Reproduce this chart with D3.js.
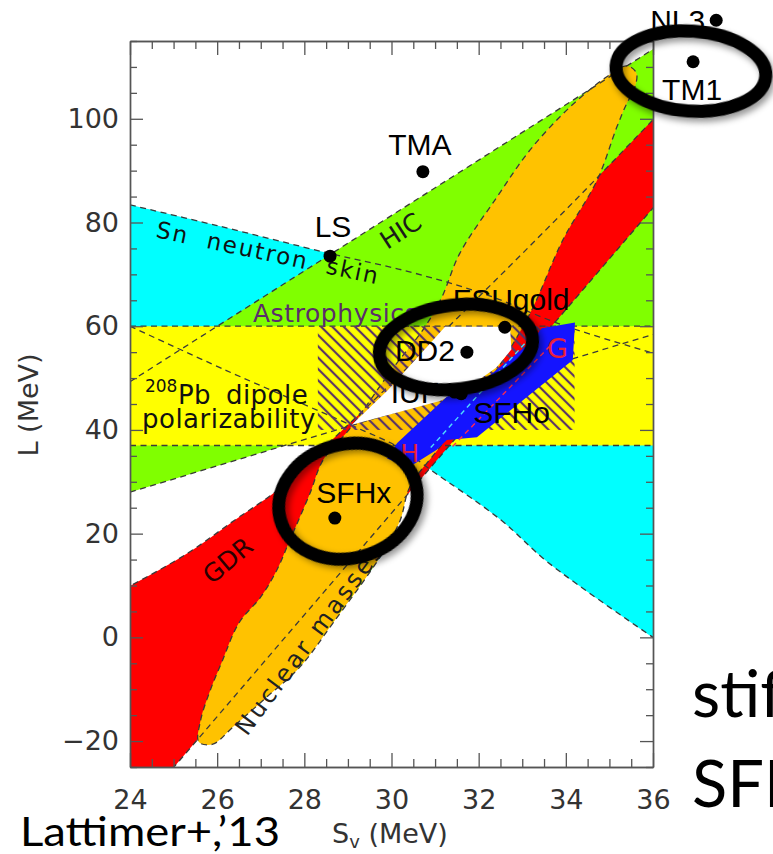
<!DOCTYPE html>
<html>
<head>
<meta charset="utf-8">
<script src="https://cdn.jsdelivr.net/npm/d3@7"></script>
<style>
  html, body { margin: 0; padding: 0; background: #fff; overflow: hidden; }
  svg { display: block; }
</style>
</head>
<body>
<svg id="chart" width="773" height="854"></svg>
<script>
// ---------- data: symmetry energy S_v and slope L, both in MeV ----------
const xTicks = [24, 26, 28, 30, 32, 34, 36];
const yTicks = [-20, 0, 20, 40, 60, 80, 100];
const xMinor = d3.range(24, 36.001, 0.5).filter(v => v % 2 !== 0);
const yMinor = d3.range(-25, 115.001, 5).filter(v => v % 20 !== 0);

// nuclear models
const models  = ["NL3", "TM1", "TMA", "LS", "FSUgold", "DD2", "IUF", "SFHo", "SFHx"];
const modelSv = [37.45, 36.92, 30.72, 28.59, 32.60, 31.73, 31.45, 31.60, 28.70];
const modelL  = [119.0, 111.0, 89.8, 73.5, 59.8, 55.0, 47.3, 47.0, 23.0];

// Sn neutron skin band (upper and lower edges)
const neutronSkinUpper = [[24, 83.4], [26, 79.4], [28.6, 74.0], [30.5, 70.3], [32.2, 66.0], [33.9, 60.3], [36, 54.8]];
const neutronSkinLower = [[24, 60], [26.2, 51.5], [29.05, 41], [30.2, 36.5], [30.9, 32.3], [32.5, 22.7], [33.6, 14.4], [36, 0]];

// heavy-ion collisions wedge
const hicUpper = [[24, 49.3], [36, 113.4]];
const hicLower = [[24, 28.0], [36, 58.4]];

// 208Pb dipole polarizability: L range
const dipoleBand = [37, 60];

// giant dipole resonance band
const gdrLeft  = [[23.0, 5.6], [24, 9.9], [25.3, 16.1], [26.4, 22.6], [27.4, 28.5], [28.5, 37], [30, 49],
                  [31.5, 61.5], [33, 74], [34.6, 87.6], [36, 99.8], [36.6, 105]];
const gdrRight = [[24.5, -30], [36.6, 88.7]];

// nuclear masses contour
const massesOuter = [
  [25.58, -20.2], [25.62, -16], [25.85, -10], [26.1, -4.9], [26.5, 2.8], [27.0, 7.8], [27.37, 13.0],
  [27.67, 18.8], [28.13, 27.8], [28.43, 34.2], [29.05, 40.3], [29.97, 51.2], [30.77, 59.9], [31.15, 65.5],
  [31.57, 74.1], [32.42, 84.9], [33.18, 94.0], [34.10, 102.3], [34.94, 108.1], [35.40, 110.2], [35.62, 108.8],
  [35.56, 105.5], [35.40, 103.0], [35.17, 98.4], [34.72, 88.2], [33.93, 76.6], [33.18, 62.5], [32.26, 49.6],
  [31.11, 36.7], [30.42, 29.0], [30.20, 22.6], [29.80, 16.3], [28.66, 2.8], [27.90, -5.7], [27.14, -11.5],
  [26.36, -17.3], [25.9, -20.6]
];

// astrophysical constraint (hatched box)
const astroSv = [28.31, 34.2];
const astroL  = [40, 60];

// region allowed by all constraints
const consensus = [[29.09, 41.0], [31.11, 45.6], [31.8, 48.4], [32.4, 52.0], [32.75, 55.5], [32.72, 59.9],
                   [31.23, 59.9], [29.92, 47.7]];

// neutron matter calculations (H and G)
const neutronMatter = [[29.9, 34.5], [30.4, 32.8], [31.04, 36.2], [31.27, 38.05], [31.96, 38.6], [34.16, 53.5],
                       [34.21, 60.7], [33.45, 59.6], [33.18, 56.8], [32.49, 52.1], [32.03, 49.1], [31.27, 46.4],
                       [30.13, 37.5]];
const matterEdgeH = [[30.9, 36.6], [33.2, 58.0]];
const matterEdgeG = [[31.4, 36.8], [33.8, 57.6]];

// highlighted models (ring centres)
const ringSv = [36.87, 31.48, 29.0];
const ringL  = [109.2, 56.0, 26.25];

// ---------- drawing ----------
const svg = d3.select("#chart");
const x = d3.scaleLinear().domain([24, 36]).range([130, 653]);
const y = d3.scaleLinear().domain([-25, 115]).range([767, 41]);

const defs = svg.append("defs");
defs.append("clipPath").attr("id", "plotClip").append("rect")
  .attr("x", x(24)).attr("y", y(115))
  .attr("width", x(36) - x(24)).attr("height", y(-25) - y(115));

const hatch = defs.append("pattern").attr("id", "hatch")
  .attr("patternUnits", "userSpaceOnUse").attr("width", 8).attr("height", 8)
  .attr("patternTransform", "rotate(-45)");
hatch.append("line").attr("x1", 4).attr("y1", -1).attr("x2", 4).attr("y2", 9)
  .attr("stroke", "#5b3566").attr("stroke-width", 2.2);

const shadow = defs.append("filter").attr("id", "ringShadow")
  .attr("x", "-30%").attr("y", "-30%").attr("width", "160%").attr("height", "160%");
shadow.append("feDropShadow").attr("dx", 3).attr("dy", 4).attr("stdDeviation", 3)
  .attr("flood-color", "#000").attr("flood-opacity", 0.4);

const smooth = d3.line().x(d => x(d[0])).y(d => y(d[1])).curve(d3.curveCatmullRom.alpha(0.5));
const straight = d3.line().x(d => x(d[0])).y(d => y(d[1]));
const smoothClosed = d3.line().x(d => x(d[0])).y(d => y(d[1])).curve(d3.curveCatmullRomClosed.alpha(0.5));

function band(a, b, gen) {
  return gen(a) + "L" + gen(b.slice().reverse()).slice(1) + "Z";
}

svg.append("rect").attr("width", 773).attr("height", 854).attr("fill", "#fff");

const plot = svg.append("g").attr("clip-path", "url(#plotClip)");

// filled constraint regions
plot.append("path").attr("d", band(neutronSkinUpper, neutronSkinLower, smooth)).attr("fill", "#00ffff");
plot.append("path").attr("d", band(hicUpper, hicLower, straight)).attr("fill", "#80ff00");
plot.append("rect")
  .attr("x", x(24)).attr("width", x(36) - x(24))
  .attr("y", y(dipoleBand[1])).attr("height", y(dipoleBand[0]) - y(dipoleBand[1]))
  .attr("fill", "#ffff00");
plot.append("path")
  .attr("d", smooth(gdrLeft) + "L" + straight(gdrRight.slice().reverse()).slice(1) + "L" + x(22) + "," + y(-30) + "Z")
  .attr("fill", "#ff0000");
plot.append("path").attr("d", smoothClosed(massesOuter)).attr("fill", "#ffc200");

// dashed outlines
const dash = plot.append("g").attr("fill", "none").attr("stroke", "#3a3a3a")
  .attr("stroke-width", 1.3).attr("stroke-dasharray", "6,4.5");
dash.append("path").attr("d", smooth(neutronSkinUpper));
dash.append("path").attr("d", smooth(neutronSkinLower));
dash.append("path").attr("d", straight(hicUpper));
dash.append("path").attr("d", straight(hicLower));
dipoleBand.forEach(v => dash.append("path").attr("d", straight([[24, v], [36, v]])));
dash.append("path").attr("d", smooth(gdrLeft));
dash.append("path").attr("d", straight(gdrRight));
dash.append("path").attr("d", smoothClosed(massesOuter));

// hatched astrophysics box
plot.append("rect")
  .attr("x", x(astroSv[0])).attr("width", x(astroSv[1]) - x(astroSv[0]))
  .attr("y", y(astroL[1])).attr("height", y(astroL[0]) - y(astroL[1]))
  .attr("fill", "url(#hatch)");

// consensus region
plot.append("path").attr("d", straight(consensus) + "Z").attr("fill", "#fff");

// neutron matter band
plot.append("path").attr("d", straight(neutronMatter) + "Z").attr("fill", "#1414ff");
plot.append("path").attr("d", straight(matterEdgeH)).attr("fill", "none")
  .attr("stroke", "#4fdcff").attr("stroke-width", 1.4).attr("stroke-dasharray", "5,4");
plot.append("path").attr("d", straight(matterEdgeG)).attr("fill", "none")
  .attr("stroke", "#ff2a55").attr("stroke-width", 1.4).attr("stroke-dasharray", "5,4");

// region labels
const rl = svg.append("g").attr("font-family", "DejaVu Sans, sans-serif");
function regionLabel(sv, l, angle, str, size, color, opts = {}) {
  const t = rl.append("text")
    .attr("transform", `translate(${x(sv)},${y(l)}) rotate(${angle})`)
    .attr("font-size", size).attr("fill", color).text(str);
  if (opts.ls) t.attr("letter-spacing", opts.ls);
  if (opts.ws) t.attr("word-spacing", opts.ws);
  return t;
}
regionLabel(24.574, 77.2, 12, "Sn neutron skin", 23, "#111", { ls: 2, ws: 9 });
regionLabel(29.90, 74.7, -33, "HIC", 25, "#1a1a1a");
regionLabel(26.82, 60.84, 0, "Astrophysics", 25, "#5b2d6b", { ls: 0.6 });
regionLabel(24.344, 47.3, 0, "208", 17, "#111");
regionLabel(25.10, 45.0, 0, "Pb dipole", 26, "#111", { ls: 0.5, ws: 6 });
regionLabel(24.275, 40.4, 0, "polarizability", 26, "#111", { ls: 0.5 });
regionLabel(25.88, 10.1, -40, "GDR", 25, "#2a0000");
regionLabel(26.685, -19.2, -53.5, "Nuclear masses", 24, "#222", { ls: 3 });
regionLabel(33.57, 53.9, 0, "G", 27, "#e8203a");
regionLabel(30.2, 33.8, 0, "H", 25, "#e8203a");

// axes (ticks on all four sides, pointing inward)
function styleAxis(g) {
  g.selectAll(".domain").attr("stroke", "#555").attr("stroke-width", 1.4);
  g.selectAll(".tick line").attr("stroke", "#555").attr("stroke-width", 1.3);
  g.selectAll(".tick text").attr("font-family", "DejaVu Sans, sans-serif")
    .attr("font-size", 27).attr("fill", "#333");
}
const axes = svg.append("g");
axes.append("g").attr("transform", `translate(${x(24)},0)`)
  .call(d3.axisLeft(y).tickValues(yMinor).tickSize(-7).tickSizeOuter(0).tickFormat("")).call(styleAxis);
axes.append("g").attr("transform", `translate(${x(24)},0)`)
  .call(d3.axisLeft(y).tickValues(yTicks).tickSize(-13).tickSizeOuter(0).tickPadding(11)).call(styleAxis);
axes.append("g").attr("transform", `translate(${x(36)},0)`)
  .call(d3.axisRight(y).tickValues(yMinor).tickSize(-7).tickSizeOuter(0).tickFormat("")).call(styleAxis);
axes.append("g").attr("transform", `translate(${x(36)},0)`)
  .call(d3.axisRight(y).tickValues(yTicks).tickSize(-13).tickSizeOuter(0).tickFormat("")).call(styleAxis);
axes.append("g").attr("transform", `translate(0,${y(-25)})`)
  .call(d3.axisBottom(x).tickValues(xMinor).tickSize(-8).tickSizeOuter(0).tickFormat("")).call(styleAxis);
axes.append("g").attr("transform", `translate(0,${y(-25)})`)
  .call(d3.axisBottom(x).tickValues(xTicks).tickSize(-14).tickSizeOuter(0).tickPadding(23)).call(styleAxis);
axes.append("g").attr("transform", `translate(0,${y(115)})`)
  .call(d3.axisTop(x).tickValues(xMinor).tickSize(-8).tickSizeOuter(0).tickFormat("")).call(styleAxis);
axes.append("g").attr("transform", `translate(0,${y(115)})`)
  .call(d3.axisTop(x).tickValues(xTicks).tickSize(-14).tickSizeOuter(0).tickFormat("")).call(styleAxis);

// axis titles
svg.append("text").attr("transform", "translate(38,405) rotate(-90)")
  .attr("text-anchor", "middle").attr("font-family", "DejaVu Sans, sans-serif")
  .attr("font-size", 27).attr("fill", "#333").text("L (MeV)");
const xt = svg.append("text").attr("x", 332).attr("y", 843)
  .attr("font-family", "DejaVu Sans, sans-serif").attr("font-size", 27).attr("fill", "#333");
xt.append("tspan").text("S");
xt.append("tspan").attr("font-size", 18).attr("dy", 5).text("v");
xt.append("tspan").attr("dy", -5).text(" (MeV)");

// model points and names
const labelPlace = {
  NL3: { a: "end", dx: -11, dy: 11 },
  TM1: { a: "middle", dx: -1, dy: 38 },
  TMA: { a: "middle", dx: -3, dy: -17 },
  LS: { a: "middle", dx: 3, dy: -19 },
  FSUgold: { a: "start", dx: -52, dy: -17 },
  DD2: { a: "end", dx: -12, dy: 9 },
  IUF: { a: "start", dx: -64, dy: 11 },
  SFHo: { a: "start", dx: 12, dy: 29 },
  SFHx: { a: "middle", dx: 19, dy: -15 }
};
const pts = svg.append("g");
models.forEach((m, i) => {
  const px = x(modelSv[i]), py = y(modelL[i]);
  const p = labelPlace[m];
  pts.append("text").attr("x", px + p.dx).attr("y", py + p.dy).attr("text-anchor", p.a)
    .attr("font-family", "Liberation Sans, Arial, sans-serif").attr("font-size", 30)
    .attr("fill", "#000").text(m);
  pts.append("circle").attr("cx", px).attr("cy", py).attr("r", 6.5).attr("fill", "#000");
});

// rings around highlighted models
const ringSize = [[75, 40, 4], [77, 42, -7], [70, 57, -15]];
ringSv.forEach((sv, i) => {
  const [rx, ry, rot] = ringSize[i];
  svg.append("ellipse")
    .attr("transform", `translate(${x(sv)},${y(ringL[i])}) rotate(${rot})`)
    .attr("rx", rx).attr("ry", ry)
    .attr("fill", "none").attr("stroke", "#000").attr("stroke-width", 13)
    .attr("filter", "url(#ringShadow)");
});

// slide annotations
svg.append("text").attr("x", 20).attr("y", 846)
  .attr("font-family", "Lato, Open Sans, sans-serif").attr("font-size", 40)
  .attr("textLength", 260).attr("lengthAdjust", "spacingAndGlyphs")
  .attr("fill", "#000").text("Lattimer+,\u201913");
svg.append("text").attr("x", 692).attr("y", 717)
  .attr("font-family", "Lato, Open Sans, sans-serif").attr("font-size", 65)
  .attr("fill", "#000").text("stiff");
svg.append("text").attr("x", 692).attr("y", 807)
  .attr("font-family", "Lato, Open Sans, sans-serif").attr("font-size", 65)
  .attr("fill", "#000").text("SFHx");
</script>
</body>
</html>
